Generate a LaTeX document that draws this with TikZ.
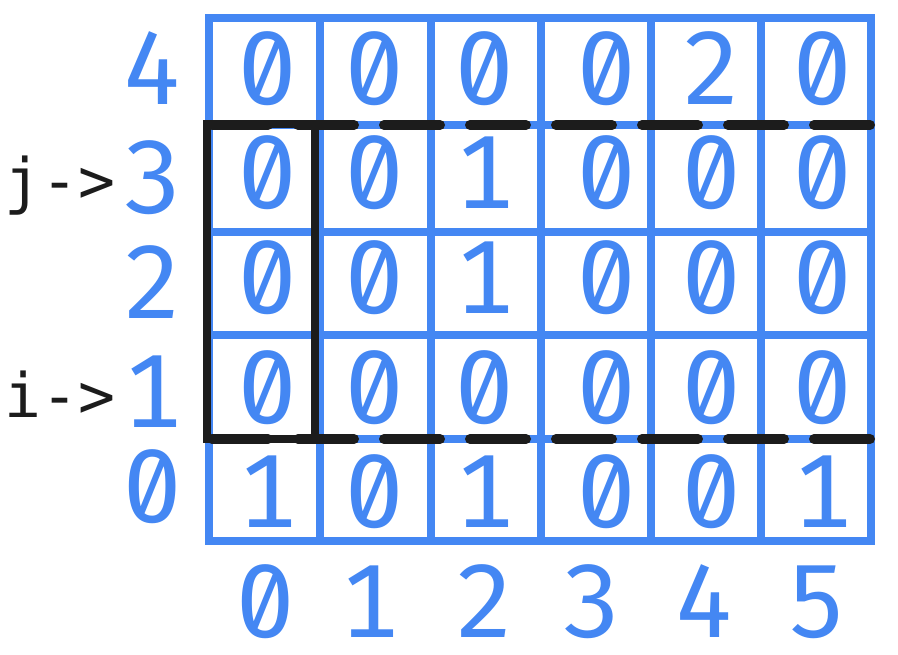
\documentclass[tikz,border=0pt]{standalone}
\usepackage{fontspec}
\setmonofont{DejaVu Sans Mono}
\newfontfamily\digfont[Numbers={SlashedZero,Monospaced}]{Fira Sans}
\definecolor{gblue}{HTML}{4487F3}
\definecolor{ink}{HTML}{1C1C1C}
\begin{document}
\begin{tikzpicture}[x=0.75pt,y=-0.75pt,
  grid/.style={draw=gblue, line width=6.5pt},
  cell/.style={text=gblue, font=\digfont\fontsize{78}{78}\selectfont, anchor=base, inner sep=0pt},
  ptr/.style={text=ink, font=\ttfamily\fontsize{46}{46}\selectfont, anchor=base west, inner sep=0pt},
  frame/.style={draw=ink, line width=6.5pt},
  cut/.style={draw=ink, line width=7.5pt, line cap=round, dash pattern=on 42pt off 22.5pt}]
\useasboundingbox (0,0) rectangle (898,654);
% grid
\draw[grid] (209,18) rectangle (871,541);
\foreach \x in {320,431,541,651,761} \draw[grid] (\x,18) -- (\x,541);
\foreach \y in {125,232,335,439} \draw[grid] (209,\y) -- (871,\y);
% cell values
\foreach \r/\b/\vals in {4/104/{0,0,0,0,2,0},3/208/{0,0,1,0,0,0},2/313/{0,0,1,0,0,0},1/423/{0,0,0,0,0,0},0/527/{1,0,1,0,0,1}}{
  \foreach \v [count=\c from 0] in \vals {
    \pgfmathsetmacro{\xx}{{268,375,485,607,712,823}[\c]}
    \node[cell] (c-\r-\c) at (\xx,\b) {\v};
  }
}
% row labels
\foreach \r/\b in {4/104,3/213,2/318,1/427,0/522}
  \node[cell] (row-\r) at (153,\b) {\r};
% column labels
\foreach \c/\x in {0/266,1/370,2/485,3/592,4/705,5/817}
  \node[cell] (col-\c) at (\x,637) {\c};
% pointers
\node[ptr] (jptr) at (4,202) {j->};
\node[ptr] (iptr) at (4,417) {i->};
% window
\draw[frame] (207,124) rectangle (315,439);
\coordinate (ta) at (212,125);
\coordinate (tb) at (871,125);
\coordinate (ba) at (212,439);
\coordinate (bb) at (871,439);
\draw[cut] (ta) -- (tb);
\draw[cut] (ba) -- (bb);
\end{tikzpicture}
\end{document}
